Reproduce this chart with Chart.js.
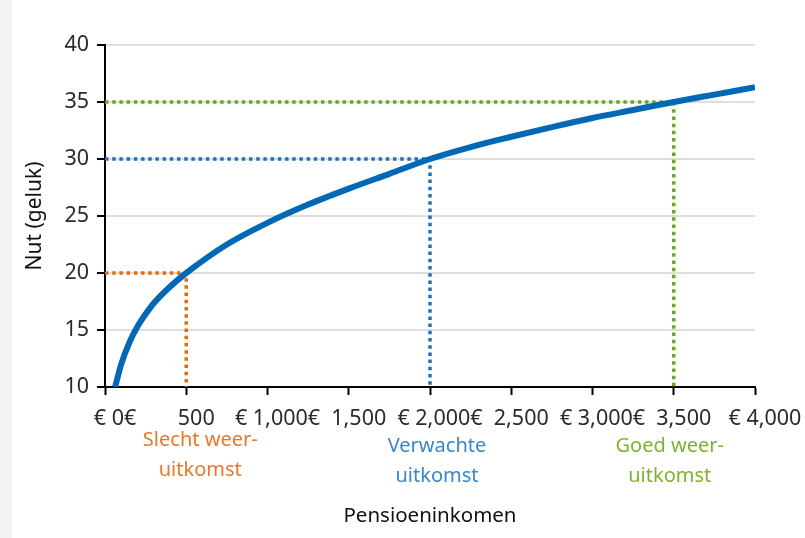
<!DOCTYPE html>
<html>
<head>
<meta charset="utf-8">
<script src="https://cdn.jsdelivr.net/npm/chart.js@4"></script>
<style>
  html, body { margin: 0; padding: 0; }
  body { width: 805px; height: 538px; background: linear-gradient(to right, #f2f4f3 0, #f2f4f3 12px, #ffffff 12px); }
  #wrap { position: relative; width: 805px; height: 538px; }
</style>
</head>
<body>
<div id="wrap"><canvas id="utilChart" width="805" height="538"></canvas></div>
<script>
// Curve: pension income vs utility
const incomes = [62, 100, 150, 200, 250, 300, 400, 500, 750, 1000, 1250, 1500, 1750, 2000, 2250, 2500, 2750, 3000, 3250, 3500, 3750, 4000];
const utility = [10, 12.0, 13.9, 15.3, 16.4, 17.35, 18.8, 20, 22.5, 24.4, 26.0, 27.4, 28.7, 30, 31.05, 31.95, 32.8, 33.6, 34.3, 35, 35.65, 36.3];

// Scenario markers (bad weather, expected, good weather)
const markerIncome = [500, 2000, 3500];
const markerUtility = [20, 30, 35];
const markerNames = [['Slecht weer-', 'uitkomst'], ['Verwachte', 'uitkomst'], ['Goed weer-', 'uitkomst']];
const markerColors = ['#e36c09', '#1a72c0', '#6aab1d'];
const markerTextColors = ['#e8782a', '#3a87c9', '#7cb42f'];
const labelNudge = [14, 7, -4];

// Tick labels as shown under the x axis
const xTickValues = [0, 500, 1000, 1500, 2000, 2500, 3000, 3500, 4000];
const xTickLabels = ['€ 0€', '500', '€ 1,000€', '1,500', '€ 2,000€', '2,500', '€ 3,000€', '3,500', '€ 4,000'];

const FONT = 'Noto Sans';
const ctx = document.getElementById('utilChart').getContext('2d');

// dotted guide lines from the axes to the curve
const guideSets = markerIncome.map((inc, i) => ({
  data: [{ x: 0, y: markerUtility[i] }, { x: inc, y: markerUtility[i] }, { x: inc, y: 10 }],
  borderColor: markerColors[i],
  borderWidth: 3.5,
  borderDash: [3.5, 3.7],
  borderCapStyle: 'butt',
  pointRadius: 0,
  fill: false,
  order: 1
}));

// text under the axis for each scenario
const scenarioLabels = {
  id: 'scenarioLabels',
  afterDraw(chart) {
    const c = chart.ctx;
    const xs = chart.scales.x;
    c.save();
    c.font = '20px "' + FONT + '"';
    c.textAlign = 'center';
    c.textBaseline = 'middle';
    markerIncome.forEach((inc, i) => {
      const px = xs.getPixelForValue(inc) + labelNudge[i];
      const top = i === 0 ? 440 : 446;
      c.fillStyle = markerTextColors[i];
      c.fillText(markerNames[i][0], px, top);
      c.fillText(markerNames[i][1], px, top + 30);
    });
    c.restore();
  }
};

new Chart(ctx, {
  type: 'line',
  data: {
    datasets: [{
      data: incomes.map((x, i) => ({ x: x, y: utility[i] })),
      borderColor: '#0068b5',
      borderWidth: 6,
      pointRadius: 0,
      cubicInterpolationMode: 'monotone',
      fill: false,
      order: 0
    }].concat(guideSets)
  },
  options: {
    responsive: false,
    animation: false,
    layout: { padding: { top: 45, right: 50, left: 0, bottom: 0 } },
    plugins: { legend: { display: false }, tooltip: { enabled: false } },
    scales: {
      x: {
        type: 'linear',
        min: 0,
        max: 4000,
        afterBuildTicks(scale) { scale.ticks = xTickValues.map(v => ({ value: v })); },
        afterFit(scale) { scale.height = 151; },
        ticks: {
          callback: (v) => xTickLabels[xTickValues.indexOf(v)],
          labelOffset: 10,
          padding: 11,
          maxRotation: 0,
          autoSkip: false,
          color: '#2b2b2b',
          font: { family: FONT, size: 21.5 }
        },
        grid: { drawOnChartArea: false, tickLength: 8, tickColor: '#000', tickWidth: 2 },
        border: { color: '#000', width: 2 },
        title: {
          display: true,
          text: 'Pensioeninkomen',
          color: '#111',
          font: { family: FONT, size: 20.5 },
          padding: { top: 0, bottom: 10 }
        }
      },
      y: {
        min: 10,
        max: 40,
        afterFit(scale) { scale.width = 105; },
        ticks: {
          stepSize: 5,
          padding: 8,
          color: '#2b2b2b',
          font: { family: FONT, size: 21.5 }
        },
        grid: { color: '#dedede', lineWidth: 2, tickLength: 8, tickColor: '#000', tickWidth: 2 },
        border: { color: '#000', width: 2 },
        title: {
          display: true,
          text: 'Nut (geluk)',
          color: '#111',
          font: { family: FONT, size: 21 },
          padding: { top: 22, bottom: 0 }
        }
      }
    }
  },
  plugins: [scenarioLabels]
});
</script>
</body>
</html>
